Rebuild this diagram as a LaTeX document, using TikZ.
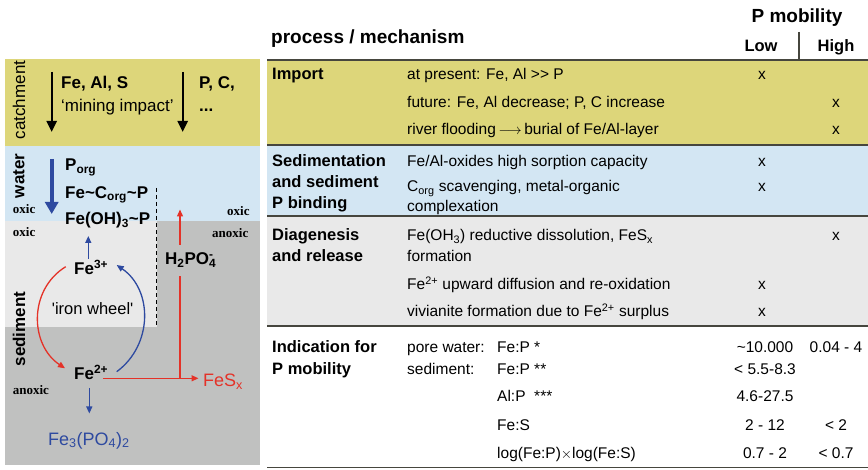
\documentclass[tikz,border=0pt]{standalone}
\usepackage{fontspec}
\setmainfont{Liberation Sans}
\newfontfamily\serifbf{Liberation Serif}
\usetikzlibrary{arrows.meta}
\definecolor{cyel}{RGB}{221,214,122}
\definecolor{cblue}{RGB}{211,230,243}
\definecolor{clgrey}{RGB}{233,233,233}
\definecolor{cdgrey}{RGB}{192,193,192}
\definecolor{cred}{RGB}{228,50,40}
\definecolor{cblu}{RGB}{46,74,160}
\definecolor{cline}{RGB}{70,70,62}
\newcommand\tl{\textasciitilde}
\tikzset{
  txt/.style={anchor=base west, inner sep=0pt, font=\fontsize{15.5}{18}\selectfont},
  hd/.style={anchor=base west, inner sep=0pt, font=\fontsize{16.5}{19}\selectfont\bfseries},
  mk/.style={anchor=base, inner sep=0pt, font=\fontsize{15.5}{18}\selectfont},
  lb/.style={anchor=base west, inner sep=0pt, font=\fontsize{17}{20}\selectfont\bfseries},
  lr/.style={anchor=base west, inner sep=0pt, font=\fontsize{17}{20}\selectfont},
  ox/.style={anchor=base west, inner sep=0pt, font=\fontsize{13}{15}\serifbf\bfseries},
  side/.style={anchor=center, inner sep=0pt, rotate=90},
  blk/.style={line width=2.2pt, -{Triangle[width=10pt,length=11pt]}},
  thin/.style={line width=1.3pt, -{Triangle[width=6pt,length=7pt]}},
  rowline/.style={cline, line width=1.3pt},
}
\begin{document}
\begin{tikzpicture}[x=1pt,y=-1pt]
\useasboundingbox (0,0) rectangle (868,470);
% ---------- left panel backgrounds
\fill[cyel] (5,59) rectangle (260,146);
\fill[cblue] (5,146) rectangle (260,221);
\fill[clgrey] (5,221) rectangle (156.5,327);
\fill[cdgrey] (156.5,221) rectangle (260,465);
\fill[cdgrey] (5,327) rectangle (156.5,465);
\draw[line width=0.9pt, dash pattern=on 4pt off 3pt] (156.5,188) -- (156.5,327);
% ---------- side labels
\node[side, font=\fontsize{17}{20}\selectfont] (catch) at (19,100) {catchment};
\node[side, font=\fontsize{17}{20}\selectfont\bfseries] (water) at (19,176) {water};
\node[side, font=\fontsize{17}{20}\selectfont\bfseries] (sedi) at (19,329) {sediment};
% ---------- catchment
\coordinate (a1s) at (51.7,72); \coordinate (a1e) at (51.7,132);
\coordinate (a2s) at (182.7,72); \coordinate (a2e) at (182.7,132);
\draw[blk] (a1s) -- (a1e);
\draw[blk] (a2s) -- (a2e);
\node[lb] (feals) at (61,89) {Fe, Al, S};
\node[lr] (mining) at (61,111.7) {‘mining impact’};
\node[lb] (pc) at (199,89) {P, C,};
\node[lb] (dots) at (199,111.7) {...};
% ---------- water
\coordinate (bws) at (51.7,159); \coordinate (bwe) at (51.7,214);
\draw[cblu, line width=3.6pt, -{Triangle[width=13pt,length=12pt]}] (bws) -- (bwe);
\node[lb] (porg) at (65,170.7) {P\textsubscript{org}};
\node[lb] (fecp) at (65,198.3) {Fe\tl C\textsubscript{org}\tl P};
\node[lb] (feoh) at (65,225) {Fe(OH)\textsubscript{3}\tl P};
\node[ox] (ox1) at (12.7,213.3) {oxic};
\node[ox] (ox2) at (227,216) {oxic};
\node[ox] (ox3) at (12.7,236.7) {oxic};
\node[ox] (anox1) at (212,238) {anoxic};
\node[ox] (anox2) at (12.7,395) {anoxic};
% ---------- iron wheel
\node[lb] (fe3) at (74,275) {Fe\textsuperscript{3+}};
\node[lb] (fe2) at (74,380) {Fe\textsuperscript{2+}};
\node[anchor=base west, inner sep=0pt, font=\fontsize{16.5}{19}\selectfont] (wheel) at (51.7,315) {\textquotesingle iron wheel\textquotesingle};
\node[anchor=base west, inner sep=0pt, font=\fontsize{18}{21}\selectfont, text=cblu] (viv) at (48,445) {Fe\textsubscript{3}(PO\textsubscript{4})\textsubscript{2}};
\node[anchor=base west, inner sep=0pt, font=\fontsize{18}{21}\selectfont, text=cred] (fes) at (203,386.7) {FeS\textsubscript{x}};
\node[lb] (hpo) at (165,265) {H\textsubscript{2}PO\textsubscript{4}\kern-0.42em\textsuperscript{-}};
\coordinate (u1s) at (88.3,259); \coordinate (u1e) at (88.3,236);
\draw[cblu, thin] (u1s) -- (u1e);
\coordinate (d1s) at (89.3,388); \coordinate (d1e) at (89.3,413.5);
\draw[cblu, thin] (d1s) -- (d1e);
\coordinate (rcs) at (65.7,266.7); \coordinate (rce) at (65,368.3);
\draw[cred, thin] (rcs) .. controls (28,290) and (30,345) .. (rce);
\coordinate (bcs) at (116.7,371.7); \coordinate (bce) at (116.7,265);
\draw[cblu, thin] (bcs) .. controls (153,345) and (153,290) .. (bce);
\coordinate (rls) at (103.3,378.3); \coordinate (rle) at (198.5,378.3);
\coordinate (rv) at (180,378.3); \coordinate (rvm) at (180,276);
\coordinate (rvs) at (180,245); \coordinate (rve) at (180,209.5);
\draw[cred, thin] (rls) -- (rle);
\draw[cred, line width=1.3pt] (rv) -- (rvm);
\draw[cred, thin] (rvs) -- (rve);
% ---------- table backgrounds
\fill[cyel] (267,60) rectangle (868,145);
\fill[cblue] (267,145) rectangle (868,216);
\fill[clgrey] (267,216) rectangle (868,326);
\draw[cline, line width=1.8pt] (267,60) -- (868,60);
\draw[rowline] (267,145) -- (868,145);
\draw[rowline] (267,216) -- (868,216);
\draw[rowline] (267,326) -- (868,326);
\draw[rowline] (267,467.5) -- (868,467.5);
\draw[cline, line width=1.2pt] (799,32) -- (799,59);
% ---------- header
\node[anchor=base west, inner sep=0pt, font=\fontsize{19}{22}\selectfont\bfseries] (proc) at (271,44) {process / mechanism};
\node[anchor=base, inner sep=0pt, font=\fontsize{19}{22}\selectfont\bfseries] (pmob) at (797,23) {P mobility};
\node[anchor=base, inner sep=0pt, font=\fontsize{16.5}{19}\selectfont\bfseries] (low) at (761,52) {Low};
\node[anchor=base, inner sep=0pt, font=\fontsize{16.5}{19}\selectfont\bfseries] (high) at (836,52) {High};
% ---------- row 1
\node[hd] (r1h) at (272,80) {Import};
\node[txt] (r1a) at (407,80) {at present: Fe, Al {>}{>} P};
\node[txt] (r1b) at (407,107.5) {future: Fe, Al decrease; P, C increase};
\node[txt] (r1c) at (407,135) {river flooding\,$\longrightarrow$\,burial of Fe/Al-layer};
\node[mk] (x1a) at (762,80) {x};
\node[mk] (x1b) at (836,107.5) {x};
\node[mk] (x1c) at (836,135) {x};
% ---------- row 2
\node[hd] (r2h1) at (272,167) {Sedimentation};
\node[hd] (r2h2) at (272,188) {and sediment};
\node[hd] (r2h3) at (272,209) {P binding};
\node[txt] (r2a) at (407,167) {Fe/Al-oxides high sorption capacity};
\node[txt] (r2b) at (407,192) {C\textsubscript{org} scavenging, metal-organic};
\node[txt] (r2c) at (407,211.5) {complexation};
\node[mk] (x2a) at (762,167) {x};
\node[mk] (x2b) at (762,192) {x};
% ---------- row 3
\node[hd] (r3h1) at (272,241) {Diagenesis};
\node[hd] (r3h2) at (272,262) {and release};
\node[txt] (r3a) at (407,241) {Fe(OH\textsubscript{3}) reductive dissolution, FeS\textsubscript{x}};
\node[txt] (r3b) at (407,262) {formation};
\node[txt] (r3c) at (407,290) {Fe\textsuperscript{2+} upward diffusion and re-oxidation};
\node[txt] (r3d) at (407,317) {vivianite formation due to Fe\textsuperscript{2+} surplus};
\node[mk] (x3a) at (836,241) {x};
\node[mk] (x3b) at (762,290) {x};
\node[mk] (x3c) at (762,317) {x};
% ---------- row 4
\node[hd] (r4h1) at (272,353) {Indication for};
\node[hd] (r4h2) at (272,375) {P mobility};
\node[txt] (pw) at (407,353) {pore water:};
\node[txt] (sd) at (407,375) {sediment:};
\node[txt] (q1) at (497,353) {Fe:P *};
\node[txt] (q2) at (497,375) {Fe:P **};
\node[txt] (q3) at (497,402) {Al:P\ \ ***};
\node[txt] (q4) at (497,430) {Fe:S};
\node[txt] (q5) at (497,458) {log(Fe:P)$\times$log(Fe:S)};
\node[mk] (v1l) at (765,353) {\tl 10.000};
\node[mk] (v1h) at (836,353) {0.04 - 4};
\node[mk] (v2l) at (765,375) {< 5.5-8.3};
\node[mk] (v3l) at (765,402) {4.6-27.5};
\node[mk] (v4l) at (765,430) {2 - 12};
\node[mk] (v4h) at (836,430) {< 2};
\node[mk] (v5l) at (765,458) {0.7 - 2};
\node[mk] (v5h) at (836,458) {< 0.7};
\end{tikzpicture}
\end{document}
